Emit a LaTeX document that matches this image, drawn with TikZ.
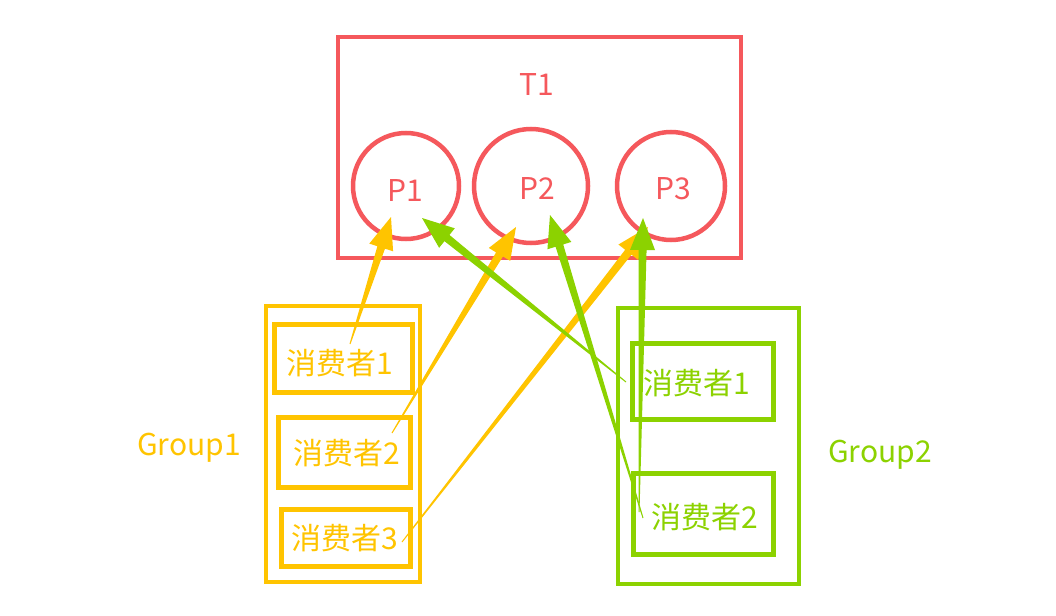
\documentclass[tikz,border=0pt]{standalone}
\usepackage{fontspec}
\newfontfamily\cjkfont{Noto Sans CJK SC}
\usetikzlibrary{calc}
\definecolor{topicred}{HTML}{F5585C}
\definecolor{grpyellow}{HTML}{FFC400}
\definecolor{grpgreen}{HTML}{8CD200}
% tapered arrow: colour, tail, head
\newcommand{\taper}[3]{%
  \path (#3) coordinate (tip) ($(#3)!32pt!(#2)$) coordinate (base);
  \fill[#1] ($(#2)!0.5pt!90:(#3)$) -- ($(base)!4pt!90:(tip)$)
    -- ($(base)!12.5pt!90:(tip)$) -- (tip) -- ($(base)!12.5pt!-90:(tip)$)
    -- ($(base)!4pt!-90:(tip)$) -- ($(#2)!0.5pt!-90:(#3)$) -- cycle;
}
\begin{document}
\begin{tikzpicture}[x=1pt,y=-1pt,
    box/.style={draw=#1,line width=4.5pt,inner sep=0pt,rectangle},
    cbox/.style={draw=#1,line width=5pt,inner sep=0pt,rectangle},
    part/.style={draw=topicred,line width=4.5pt,inner sep=0pt,circle},
    txt/.style={text=#1,inner sep=0pt,font=\cjkfont\fontsize{30}{30}\selectfont}]
  \useasboundingbox[fill=white] (0,0) rectangle (1056,615);
  % topic
  \node[box=topicred,minimum width=403pt,minimum height=221pt] (t1) at (539.5,147.5) {};
  \node[txt=topicred] (t1name) at (537,85) {T1};
  \node[part,minimum size=106pt] (p1) at (406,186) {};
  \node[txt=topicred] (p1name) at (405,191) {P1};
  \node[part,minimum size=114pt] (p2) at (531,186) {};
  \node[txt=topicred] (p2name) at (537,189) {P2};
  \node[part,minimum size=108pt] (p3) at (671,186) {};
  \node[txt=topicred] (p3name) at (673,189) {P3};
  % group 1
  \node[box=grpyellow,minimum width=154pt,minimum height=276pt] (g1) at (343,444) {};
  \node[txt=grpyellow] (g1name) at (189,448) {Group1};
  \node[cbox=grpyellow,minimum width=138pt,minimum height=68pt] (g1c1) at (343,358) {};
  \node[txt=grpyellow] (g1c1name) at (340,363) {消费者1};
  \node[cbox=grpyellow,minimum width=132pt,minimum height=70pt] (g1c2) at (344,452) {};
  \node[txt=grpyellow] (g1c2name) at (347,453) {消费者2};
  \node[cbox=grpyellow,minimum width=129pt,minimum height=57pt] (g1c3) at (345.5,537.5) {};
  \node[txt=grpyellow] (g1c3name) at (345,538) {消费者3};
  % group 2
  \node[box=grpgreen,minimum width=181pt,minimum height=276pt] (g2) at (708.5,446) {};
  \node[txt=grpgreen] (g2name) at (880,455) {Group2};
  \node[cbox=grpgreen,minimum width=141pt,minimum height=76pt] (g2c1) at (702.5,381) {};
  \node[txt=grpgreen] (g2c1name) at (697,383) {消费者1};
  \node[cbox=grpgreen,minimum width=140pt,minimum height=81pt] (g2c2) at (703,513.5) {};
  \node[txt=grpgreen] (g2c2name) at (705,517) {消费者2};
  % arrow ends
  \coordinate (y1from) at (350,344);
  \coordinate (y1to) at (391,217);
  \coordinate (y2from) at (392,433);
  \coordinate (y2to) at (516,227);
  \coordinate (y3from) at (402,542);
  \coordinate (y3to) at (648,227);
  \coordinate (g1from) at (626,382);
  \coordinate (g1to) at (422,218);
  \coordinate (g2from) at (643,518);
  \coordinate (g2to) at (550,215);
  \coordinate (g3from) at (639,512);
  \coordinate (g3to) at (643,218);
  \taper{grpyellow}{y1from}{y1to}
  \taper{grpyellow}{y2from}{y2to}
  \taper{grpyellow}{y3from}{y3to}
  \taper{grpgreen}{g1from}{g1to}
  \taper{grpgreen}{g2from}{g2to}
  \taper{grpgreen}{g3from}{g3to}
\end{tikzpicture}
\end{document}
